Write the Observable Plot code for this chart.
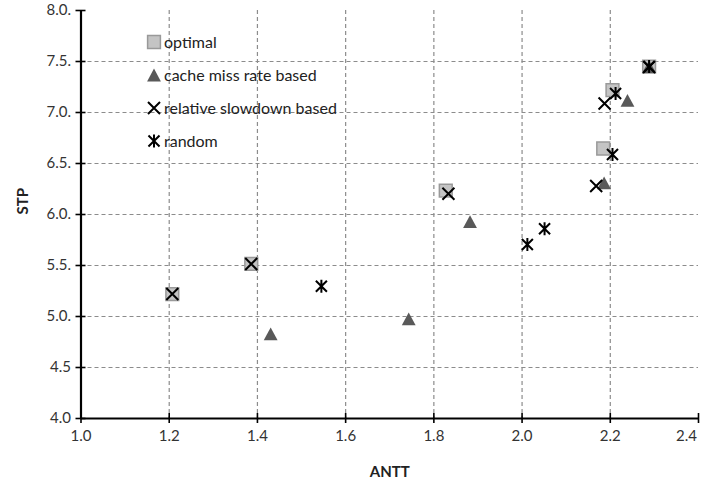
<!DOCTYPE html>
<html>
<head>
<meta charset="utf-8">
<script src="https://cdn.jsdelivr.net/npm/d3@7"></script>
<script src="https://cdn.jsdelivr.net/npm/@observablehq/plot@0.6"></script>
<style>
  html, body { margin: 0; padding: 0; background: #fff; }
  #wrap { position: relative; width: 703px; height: 488px; font-family: Lato, "Open Sans", sans-serif; }
  #legend { position: absolute; left: 146px; top: 25px; font-size: 16px; color: #222; }
  .row { display: flex; align-items: center; height: 33px; }
  .row svg { width: 16px; height: 16px; margin-right: 2px; }
</style>
</head>
<body>
<div id="wrap"><div id="legend"></div></div>
<script>
// ---- data ----
const seriesNames = ["optimal", "cache miss rate based", "relative slowdown based", "random"];

const optimalX = [1.207, 1.386, 1.827, 2.184, 2.205, 2.288];
const optimalY = [5.22, 5.515, 6.235, 6.647, 7.22, 7.45];

const cacheX = [1.430, 1.743, 1.882, 2.186, 2.239, 2.288];
const cacheY = [4.83, 4.977, 5.931, 6.31, 7.118, 7.45];

const slowdownX = [1.207, 1.386, 1.833, 2.168, 2.187, 2.288];
const slowdownY = [5.22, 5.515, 6.203, 6.28, 7.088, 7.445];

const randomX = [1.545, 2.012, 2.051, 2.205, 2.212, 2.288];
const randomY = [5.297, 5.706, 5.860, 6.588, 7.186, 7.45];

const xTicks = [1.0, 1.2, 1.4, 1.6, 1.8, 2.0, 2.2, 2.4];
const xTickLabels = ["1.0", "1.2", "1.4", "1.6", "1.8", "2.0", "2.2", "2.4"];
const yTicks = [4.0, 4.5, 5.0, 5.5, 6.0, 6.5, 7.0, 7.5, 8.0];
const yTickLabels = ["4.0", "4.5", "5.0.", "5.5.", "6.0.", "6.5.", "7.0.", "7.5.", "8.0."];

const xLabel = "ANTT";
const yLabel = "STP";

// ---- symbols ----
const symSquare = { draw(ctx, size) { const r = Math.sqrt(size / Math.PI); ctx.rect(-r, -r, 2 * r, 2 * r); } };
const symTriangle = { draw(ctx, size) { const r = Math.sqrt(size / Math.PI); ctx.moveTo(0, -r); ctx.lineTo(r * 1.08, r); ctx.lineTo(-r * 1.08, r); ctx.closePath(); } };
const symTimes = { draw(ctx, size) { const r = Math.sqrt(size / Math.PI); ctx.moveTo(-r, -r); ctx.lineTo(r, r); ctx.moveTo(r, -r); ctx.lineTo(-r, r); } };
const symAsterisk = { draw(ctx, size) { const r = Math.sqrt(size / Math.PI); ctx.moveTo(-r * 0.85, -r * 0.85); ctx.lineTo(r * 0.85, r * 0.85); ctx.moveTo(r * 0.85, -r * 0.85); ctx.lineTo(-r * 0.85, r * 0.85); ctx.moveTo(0, -r); ctx.lineTo(0, r); } };

const styles = [
  { symbol: symSquare, r: 6.4, fill: "#c4c4c4", stroke: "#999999", strokeWidth: 1.5 },
  { symbol: symTriangle, r: 6.4, fill: "#595959", stroke: "none", strokeWidth: 0 },
  { symbol: symTimes, r: 6, fill: "none", stroke: "#000", strokeWidth: 2 },
  { symbol: symAsterisk, r: 6.5, fill: "none", stroke: "#000", strokeWidth: 2 }
];

const seriesX = [optimalX, cacheX, slowdownX, randomX];
const seriesY = [optimalY, cacheY, slowdownY, randomY];
const tables = seriesX.map((xs, k) => xs.map((x, i) => ({ x, y: seriesY[k][i] })));

const gridStyle = { stroke: "#8c8c8c", strokeOpacity: 1, strokeWidth: 1.2, strokeDasharray: "4,3" };
const lastX = xTicks.length - 1;

const chart = Plot.plot({
  width: 703,
  height: 488,
  marginLeft: 80.5,
  marginRight: 5,
  marginTop: 10,
  marginBottom: 70,
  style: { fontFamily: "Lato, 'Open Sans', sans-serif", fontSize: "15px", color: "#333", background: "transparent" },
  x: { domain: [1, 2.4] },
  y: { domain: [4, 8] },
  marks: [
    Plot.gridX(xTicks.slice(1, -1), gridStyle),
    Plot.gridY(yTicks.slice(1, -1), gridStyle),
    Plot.axisX({ ticks: xTicks.slice(0, lastX), tickFormat: (d, i) => xTickLabels[i], tickSize: 0, tickPadding: 12, label: null, fill: "#333" }),
    Plot.axisX({ ticks: xTicks.slice(lastX), tickFormat: (d, i) => xTickLabels[lastX + i], tickSize: 0, tickPadding: 12, dx: -12, label: null, fill: "#333" }),
    Plot.axisY({ ticks: yTicks, tickFormat: (d, i) => yTickLabels[i], tickSize: 0, tickPadding: 10, label: null, fill: "#333" }),
    Plot.ruleX(xTicks, { y1: 4, y2: 4, insetTop: -5, insetBottom: -5, stroke: "#000", strokeWidth: 1.6 }),
    Plot.ruleY(yTicks, { x1: 1, x2: 1, insetLeft: -5, insetRight: -5, stroke: "#000", strokeWidth: 1.6 }),
    Plot.ruleY([4], { stroke: "#000", strokeWidth: 2.2 }),
    Plot.ruleX([1], { stroke: "#000", strokeWidth: 2.2 }),
    ...tables.map((t, k) => Plot.dot(t, { x: "x", y: "y", ...styles[k] })),
    Plot.text([xLabel], { frameAnchor: "bottom", dy: 58, fontWeight: "bold", fontSize: 15, fill: "#222" }),
    Plot.text([yLabel], { frameAnchor: "left", dx: -58, rotate: -90, fontWeight: "bold", fontSize: 15, fill: "#222" })
  ]
});

document.getElementById("wrap").insertBefore(chart, document.getElementById("legend"));

// ---- legend ----
const legend = d3.select("#legend");
seriesNames.forEach((name, k) => {
  const row = legend.append("div").attr("class", "row");
  const s = styles[k];
  const svg = row.append("svg").attr("viewBox", "-8 -8 16 16");
  svg.append("path")
    .attr("d", d3.symbol(s.symbol, s.r * s.r * Math.PI)())
    .attr("fill", s.fill).attr("stroke", s.stroke).attr("stroke-width", s.strokeWidth);
  row.append("span").text(name);
});
</script>
</body>
</html>
